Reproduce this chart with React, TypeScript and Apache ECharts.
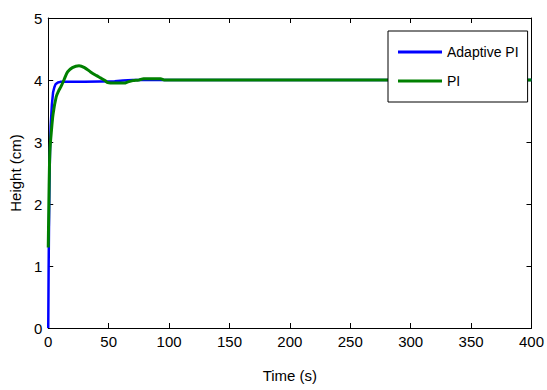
import React, { useEffect, useRef } from "react";
import * as echarts from "echarts";

const adaptiveT = [0, 0.3, 0.6, 1, 1.5, 2, 3, 4, 5, 6, 8, 10, 30, 55, 62, 70, 100, 200, 300, 400];
const adaptiveY = [0, 0.9, 1.6, 2.3, 2.9, 3.25, 3.6, 3.8, 3.88, 3.93, 3.96, 3.97, 3.97, 3.98, 3.99, 4.0, 4.0, 4.0, 4.0, 4.0];

const piT = [0, 0.5, 1, 1.5, 2.5, 4, 6.6, 8.5, 10.7, 13, 16, 20, 25.5, 30, 35, 40, 43.6, 47, 49, 55, 63, 66, 70, 75, 79, 85, 93, 96, 100, 200, 300, 400];
const piY = [1.3, 2.0, 2.6, 2.9, 3.15, 3.45, 3.73, 3.82, 3.9, 4.0, 4.13, 4.2, 4.23, 4.2, 4.13, 4.07, 4.03, 3.99, 3.96, 3.95, 3.95, 3.97, 3.99, 4.0, 4.02, 4.02, 4.02, 4.0, 4.0, 4.0, 4.0, 4.0];

const FONT = "'Liberation Sans', Arial, sans-serif";

export default function App() {
  const ref = useRef<HTMLDivElement>(null);
  useEffect(() => {
    const chart = echarts.init(ref.current!, null, { renderer: "svg" });
    const axisCommon = {
      axisLine: { show: true, onZero: false, lineStyle: { color: "#000", width: 1 } },
      axisTick: { show: true, inside: true, length: 5, lineStyle: { color: "#000" } },
      splitLine: { show: false },
    };
    chart.setOption({
      animation: false,
      backgroundColor: "#fff",
      grid: { left: 47, right: 14, top: 18, bottom: 62 },
      legend: {
        orient: "vertical",
        left: 388,
        top: 31,
        backgroundColor: "#fff",
        borderColor: "#000",
        borderWidth: 1,
        borderRadius: 0,
        padding: [14, 9, 14, 10],
        itemGap: 15,
        itemWidth: 44,
        itemHeight: 14,
        itemStyle: { opacity: 0 },
        textStyle: { fontFamily: FONT, fontSize: 14, color: "#000" },
        data: [
          { name: "Adaptive PI", icon: "path://M0,0 L44,0 L44,3 L0,3 Z", itemStyle: { color: "#0000ff", opacity: 1 } },
          { name: "PI", icon: "path://M0,0 L44,0 L44,3 L0,3 Z", itemStyle: { color: "#008000", opacity: 1 } },
        ],
      },
      xAxis: [
        {
          type: "value",
          min: 0,
          max: 400,
          interval: 50,
          ...axisCommon,
          axisLabel: { color: "#000", fontFamily: FONT, fontSize: 15, margin: 6 },
          name: "Time (s)",
          nameLocation: "middle",
          nameGap: 40,
          nameTextStyle: { color: "#000", fontFamily: FONT, fontSize: 15 },
        },
        {
          type: "value",
          position: "top",
          min: 0,
          max: 400,
          interval: 50,
          ...axisCommon,
          axisLabel: { show: false },
        },
      ],
      yAxis: [
        {
          type: "value",
          min: 0,
          max: 5,
          interval: 1,
          ...axisCommon,
          axisLabel: { color: "#000", fontFamily: FONT, fontSize: 15, margin: 6 },
          name: "Height (cm)",
          nameLocation: "middle",
          nameGap: 16,
          nameTextStyle: { color: "#000", fontFamily: FONT, fontSize: 15 },
        },
        {
          type: "value",
          position: "right",
          min: 0,
          max: 5,
          interval: 1,
          ...axisCommon,
          axisLabel: { show: false },
        },
      ],
      series: [
        {
          name: "Adaptive PI",
          type: "line",
          symbol: "none",
          data: adaptiveT.map((t, i) => [t, adaptiveY[i]]),
          lineStyle: { color: "#0000ff", width: 2.5 },
          itemStyle: { color: "#0000ff" },
        },
        {
          name: "PI",
          type: "line",
          symbol: "none",
          smooth: 0.3,
          data: piT.map((t, i) => [t, piY[i]]),
          lineStyle: { color: "#008000", width: 3 },
          itemStyle: { color: "#008000" },
        },
      ],
    });
    return () => chart.dispose();
  }, []);
  return <div ref={ref} style={{ width: 547, height: 390, position: "absolute", left: 0, top: 0 }} />;
}
